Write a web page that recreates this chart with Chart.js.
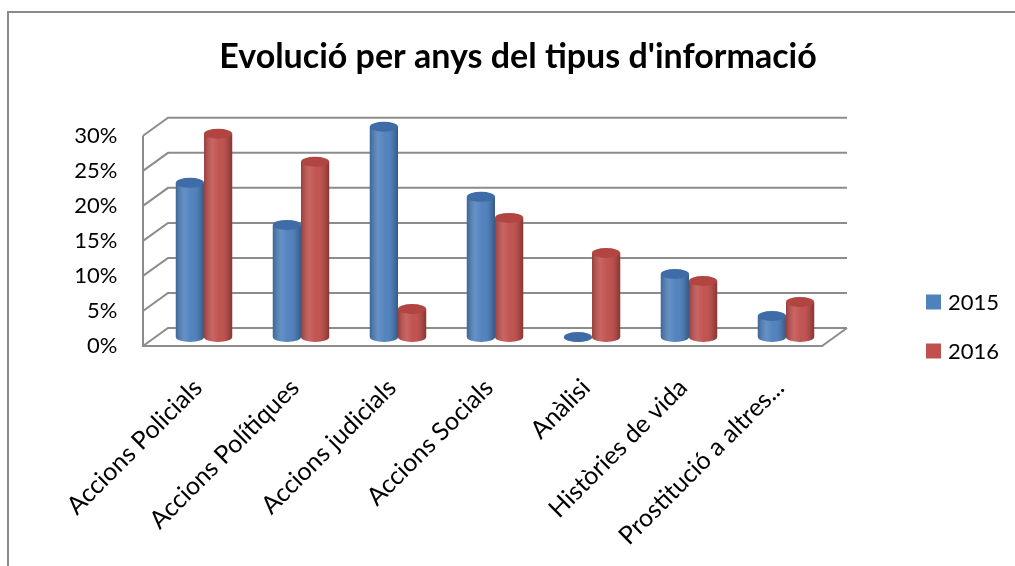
<!DOCTYPE html>
<html>
<head>
    <title>Evolució per anys del tipus d'informació</title>
    <style>
        body{
            margin:0;
            background:white;
        }
        #frame{
            position:absolute;
            left:7px;
            top:11px;
            width:1100px;
            height:700px;
            border-left:2px solid #8a8a8a;
            border-top:2px solid #8a8a8a;
        }
        #wrap{
            position:absolute;
            left:0;
            top:0;
            width:1015px;
            height:566px;
            overflow:hidden;
        }
    </style>
</head>
<body>
<div id="wrap">
    <div id="frame"></div>
    <canvas id="grafic" width="1015" height="566" style="position:absolute;left:0;top:0;"></canvas>
</div>

<script src="https://cdn.jsdelivr.net/npm/chart.js@4.4.1/dist/chart.umd.min.js"></script>
<script>

    const categories = ["Accions Policials", "Accions Polítiques", "Accions judicials", "Accions Socials", "Anàlisi", "Històries de vida", "Prostitució a altres..."];
    const values2015 = [0.22, 0.16, 0.30, 0.20, 0.00, 0.09, 0.03];
    const values2016 = [0.29, 0.25, 0.04, 0.17, 0.12, 0.08, 0.05];
    const yTicks = [0, 0.05, 0.10, 0.15, 0.20, 0.25, 0.30];

    const blue = "#4f81bd";
    const red = "#c0504d";
    const topBlue = "#3f6ca8";
    const topRed = "#b04542";

    // depth of the fake 3D box
    const dx = 12.5;
    const dy = 9;

    const frame3d = {
        id: "frame3d",
        beforeDatasetsDraw(chart) {
            const ctx = chart.ctx;
            const area = chart.chartArea;
            const y = chart.scales.y;
            ctx.save();
            ctx.strokeStyle = "#8c8c8c";
            ctx.lineWidth = 2;
            yTicks.forEach(v => {
                const ym = y.getPixelForValue(v);
                ctx.beginPath();
                ctx.moveTo(area.left - dx, ym + dy);
                ctx.lineTo(area.left + dx, ym - dy);
                ctx.lineTo(area.right + dx, ym - dy);
                ctx.stroke();
            });
            const y0 = y.getPixelForValue(0);
            const yTop = y.getPixelForValue(yTicks[yTicks.length - 1]);
            ctx.beginPath();
            ctx.moveTo(area.left - dx, yTop + dy);
            ctx.lineTo(area.left - dx, y0 + dy);
            ctx.lineTo(area.right - dx, y0 + dy);
            ctx.lineTo(area.right + dx, y0 - dy);
            ctx.stroke();
            ctx.restore();
        },
        afterDatasetsDraw(chart) {
            const ctx = chart.ctx;
            chart.data.datasets.forEach((ds, i) => {
                const meta = chart.getDatasetMeta(i);
                const col = i === 0 ? blue : red;
                const topCol = i === 0 ? topBlue : topRed;
                meta.data.forEach(bar => {
                    const p = bar.getProps(["x", "y", "base", "width"], true);
                    const l = p.x - p.width / 2;
                    const r = p.x + p.width / 2;
                    const rx = p.width / 2;
                    const ry = 5;
                    ctx.save();
                    // body + rounded bottom
                    ctx.beginPath();
                    ctx.moveTo(l, p.y);
                    ctx.lineTo(l, p.base);
                    ctx.ellipse(p.x, p.base, rx, ry, 0, Math.PI, 0, true);
                    ctx.lineTo(r, p.y);
                    ctx.closePath();
                    ctx.fillStyle = col;
                    ctx.fill();
                    const g = ctx.createLinearGradient(l, 0, r, 0);
                    g.addColorStop(0, "rgba(0,0,0,0.22)");
                    g.addColorStop(0.3, "rgba(255,255,255,0.12)");
                    g.addColorStop(0.55, "rgba(255,255,255,0.02)");
                    g.addColorStop(0.85, "rgba(0,0,0,0.12)");
                    g.addColorStop(1, "rgba(0,0,0,0.3)");
                    ctx.fillStyle = g;
                    ctx.fill();
                    // top cap
                    ctx.beginPath();
                    ctx.ellipse(p.x, p.y, rx, ry, 0, 0, Math.PI * 2);
                    ctx.fillStyle = topCol;
                    ctx.fill();
                    ctx.restore();
                });
            });
        },
        afterDraw(chart) {
            // legend on the right
            const ctx = chart.ctx;
            const rows = [302, 351];
            ctx.save();
            ctx.font = "22px Lato";
            ctx.textBaseline = "middle";
            chart.data.datasets.forEach((ds, i) => {
                ctx.fillStyle = ds.backgroundColor;
                ctx.fillRect(926, rows[i] - 7.5, 15, 15);
                ctx.fillStyle = "#000";
                ctx.fillText(ds.label, 948, rows[i] + 1);
            });
            ctx.restore();
        }
    };

    new Chart("grafic", {
        type: "bar",
        data: {
            labels: categories,
            datasets: [
                { label: "2015", data: values2015, backgroundColor: blue },
                { label: "2016", data: values2016, backgroundColor: red }
            ]
        },
        options: {
            responsive: false,
            animation: false,
            events: [],
            layout: { padding: { left: 21, right: 0, top: 0, bottom: 0 } },
            categoryPercentage: 0.58,
            barPercentage: 1,
            plugins: {
                legend: { display: false },
                tooltip: { enabled: false },
                title: {
                    display: true,
                    text: "Evolució per anys del tipus d'informació",
                    color: "#000",
                    font: { family: "Lato", size: 34, weight: "bold" },
                    padding: { top: 37, bottom: 49 },
                    align: "center"
                }
            },
            scales: {
                x: {
                    grid: { display: false, drawTicks: false },
                    border: { display: false },
                    ticks: {
                        color: "#000",
                        font: { family: "Lato", size: 25 },
                        minRotation: 45,
                        maxRotation: 45,
                        autoSkip: false,
                        padding: 36,
                        labelOffset: -6
                    },
                    afterFit(scale) { scale.height = 229; }
                },
                y: {
                    min: 0,
                    max: 0.3,
                    grid: { display: false, drawTicks: false },
                    border: { display: false },
                    ticks: {
                        stepSize: 0.05,
                        color: "#000",
                        font: { family: "Lato", size: 22 },
                        padding: 38,
                        labelOffset: 9,
                        callback: v => Math.round(v * 100) + "%"
                    },
                    afterFit(scale) { scale.width = 134.5; }
                },
                // empty axis that keeps room for the legend on the right
                y2: {
                    position: "right",
                    grid: { display: false, drawTicks: false },
                    border: { display: false },
                    ticks: { display: false },
                    afterFit(scale) { scale.width = 180.5; }
                }
            }
        },
        plugins: [frame3d]
    });

</script>
</body>
</html>
